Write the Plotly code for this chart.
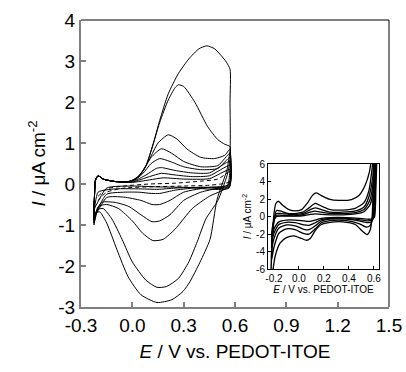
import plotly.graph_objects as go

# ---------------- main panel data (E in V, I in uA cm-2) ----------------
E_a = [-0.224, -0.222, -0.215, -0.2, -0.17, -0.1, -0.02, 0.03, 0.08, 0.12, 0.16, 0.21, 0.27, 0.33, 0.39, 0.435, 0.48, 0.52, 0.55, 0.571,
       0.571, 0.571, 0.553, 0.495, 0.454, 0.395, 0.337, 0.296, 0.232, 0.144, 0.05, -0.025, -0.09, -0.15, -0.19, -0.21, -0.224]
I_a = [-1.0, -0.4, 0.1, 0.2, 0.12, 0.06, 0.06, 0.15, 0.45, 0.95, 1.55, 2.2, 2.7, 3.05, 3.3, 3.37, 3.3, 3.13, 2.97, 2.8,
       2.0, 0.84, 0.35, -0.38, -1.35, -1.91, -2.38, -2.62, -2.82, -2.89, -2.7, -2.26, -1.6, -0.95, -0.68, -0.7, -1.0]

E_b = [-0.224, -0.222, -0.215, -0.2, -0.17, -0.1, -0.02, 0.03, 0.08, 0.12, 0.16, 0.21, 0.25, 0.27, 0.3, 0.366, 0.44, 0.5, 0.54, 0.571,
       0.568, 0.553, 0.5, 0.43, 0.38, 0.33, 0.27, 0.2, 0.144, 0.08, 0.0, -0.06, -0.12, -0.17, -0.2, -0.224]
I_b = [-0.95, -0.4, 0.1, 0.2, 0.12, 0.06, 0.06, 0.15, 0.45, 0.95, 1.5, 2.05, 2.35, 2.42, 2.38, 1.99, 1.4, 1.08, 0.97, 0.91,
       0.5, 0.2, -0.4, -0.85, -1.4, -1.9, -2.3, -2.5, -2.52, -2.35, -1.9, -1.35, -0.85, -0.6, -0.62, -0.95]

E_c = [-0.224, -0.222, -0.215, -0.2, -0.17, -0.1, -0.02, 0.04, 0.1, 0.15, 0.21, 0.26, 0.32, 0.4, 0.48, 0.54, 0.571,
       0.565, 0.55, 0.45, 0.35, 0.25, 0.18, 0.12, 0.06, 0.0, -0.08, -0.15, -0.2, -0.224]
I_c = [-0.9, -0.4, 0.1, 0.2, 0.12, 0.06, 0.06, 0.2, 0.6, 1.0, 1.2, 1.1, 0.85, 0.65, 0.62, 0.7, 0.85,
       0.1, -0.1, -0.3, -0.6, -1.1, -1.35, -1.38, -1.2, -0.9, -0.6, -0.5, -0.55, -0.9]

E_d = [-0.224, -0.222, -0.215, -0.2, -0.17, -0.1, 0.0, 0.06, 0.11, 0.17, 0.23, 0.3, 0.4, 0.5, 0.571,
       0.565, 0.5, 0.4, 0.3, 0.22, 0.16, 0.115, 0.05, -0.02, -0.1, -0.18, -0.224]
I_d = [-0.85, -0.4, 0.1, 0.2, 0.12, 0.06, 0.08, 0.3, 0.65, 0.86, 0.75, 0.55, 0.42, 0.45, 0.75,
       0.0, -0.1, -0.2, -0.4, -0.75, -0.9, -0.92, -0.75, -0.55, -0.45, -0.45, -0.85]

E_e = [-0.224, -0.222, -0.215, -0.2, -0.17, -0.1, 0.0, 0.06, 0.11, 0.16, 0.22, 0.3, 0.4, 0.5, 0.571,
       0.565, 0.45, 0.3, 0.22, 0.16, 0.115, 0.05, -0.05, -0.15, -0.224]
I_e = [-0.8, -0.4, 0.1, 0.2, 0.12, 0.06, 0.07, 0.25, 0.5, 0.62, 0.55, 0.42, 0.35, 0.38, 0.65,
       -0.02, -0.08, -0.2, -0.4, -0.5, -0.5, -0.4, -0.32, -0.33, -0.8]

E_f = [-0.224, -0.222, -0.215, -0.2, -0.17, -0.1, 0.0, 0.08, 0.14, 0.17, 0.25, 0.35, 0.45, 0.571,
       0.565, 0.4, 0.25, 0.16, 0.11, 0.04, -0.05, -0.15, -0.224]
I_f = [-0.75, -0.4, 0.1, 0.2, 0.12, 0.06, 0.06, 0.22, 0.38, 0.4, 0.33, 0.27, 0.27, 0.55,
       -0.05, -0.08, -0.15, -0.23, -0.23, -0.2, -0.2, -0.25, -0.75]

E_g = [-0.224, -0.222, -0.215, -0.2, -0.17, -0.1, 0.0, 0.1, 0.17, 0.25, 0.35, 0.45, 0.571,
       0.565, 0.4, 0.25, 0.15, 0.05, -0.1, -0.2, -0.224]
I_g = [-0.7, -0.4, 0.1, 0.2, 0.12, 0.06, 0.05, 0.18, 0.26, 0.22, 0.18, 0.2, 0.45,
       -0.08, -0.08, -0.1, -0.13, -0.12, -0.12, -0.2, -0.7]

E_h = [-0.224, -0.222, -0.215, -0.2, -0.17, -0.1, 0.0, 0.1, 0.18, 0.3, 0.45, 0.571,
       0.565, 0.3, 0.15, 0.0, -0.15, -0.224]
I_h = [-0.6, -0.4, 0.1, 0.2, 0.12, 0.06, 0.04, 0.1, 0.15, 0.12, 0.13, 0.35,
       -0.1, -0.08, -0.07, -0.05, -0.1, -0.6]

E_dash = [-0.2, -0.15, -0.05, 0.1, 0.25, 0.4, 0.5, 0.571,
          0.565, 0.45, 0.3, 0.1, -0.05, -0.15, -0.2]
I_dash = [-0.3, -0.12, -0.05, 0.0, 0.02, 0.07, 0.12, 0.3,
          0.05, -0.03, -0.05, -0.07, -0.1, -0.2, -0.4]

main_curves = [(E_a, I_a), (E_b, I_b), (E_c, I_c), (E_d, I_d), (E_e, I_e),
               (E_f, I_f), (E_g, I_g), (E_h, I_h)]

x_tickvals = [-0.3, 0.0, 0.3, 0.6, 0.9, 1.2, 1.5]
x_ticktext = ["-0.3", "0.0", "0.3", "0.6", "0.9", "1.2", "1.5"]
y_tickvals = [-3, -2, -1, 0, 1, 2, 3, 4]
y_ticktext = ["-3", "-2", "-1", "0", "1", "2", "3", "4"]

# ---------------- inset data ----------------
Ei_1 = [-0.225, -0.215, -0.2, -0.185, -0.165, -0.13, -0.08, -0.03, 0.02, 0.07, 0.11, 0.14, 0.18, 0.24, 0.32, 0.42, 0.48, 0.53, 0.565, 0.59,
        0.6, 0.595, 0.585, 0.57, 0.545, 0.51, 0.45, 0.35, 0.25, 0.18, 0.13, 0.09, 0.06, 0.02, -0.04, -0.1, -0.15, -0.19, -0.21, -0.225]
Ii_1 = [-8, -3, 0.3, 1.5, 1.75, 1.3, 0.8, 0.65, 0.8, 1.6, 2.45, 2.7, 2.4, 2.0, 1.85, 1.95, 2.4, 3.6, 5.2, 7.5,
        7.5, 4, 0, -1.5, -2.05, -1.7, -0.9, -0.6, -0.65, -0.9, -1.6, -2.5, -2.7, -2.5, -2.2, -2.4, -3.0, -4.5, -6.3, -8]

Ei_2 = [-0.22, -0.21, -0.195, -0.18, -0.15, -0.1, -0.03, 0.03, 0.08, 0.13, 0.18, 0.25, 0.35, 0.45, 0.52, 0.56, 0.585, 0.6,
        0.605, 0.6, 0.59, 0.57, 0.54, 0.48, 0.38, 0.25, 0.18, 0.13, 0.08, 0.04, -0.03, -0.1, -0.16, -0.2, -0.22]
Ii_2 = [-5, -2, 0.0, 0.7, 0.65, 0.4, 0.35, 0.5, 1.0, 1.5, 1.2, 0.8, 0.75, 0.95, 1.6, 3.0, 5.5, 7.5,
        7.5, 3, 0, -1.0, -1.2, -0.8, -0.45, -0.45, -0.7, -1.4, -2.0, -1.95, -1.5, -1.4, -1.9, -3.5, -5]

Ei_3 = [-0.22, -0.21, -0.195, -0.18, -0.14, -0.08, -0.02, 0.04, 0.09, 0.13, 0.18, 0.25, 0.35, 0.45, 0.52, 0.56, 0.59, 0.605,
        0.61, 0.605, 0.595, 0.58, 0.55, 0.48, 0.38, 0.25, 0.18, 0.13, 0.08, 0.04, -0.03, -0.1, -0.16, -0.2, -0.22]
Ii_3 = [-3.8, -1.5, -0.1, 0.35, 0.35, 0.25, 0.25, 0.4, 0.8, 1.0, 0.8, 0.5, 0.5, 0.65, 1.1, 2.3, 4.5, 7.5,
        7.5, 3, 0, -0.6, -0.7, -0.5, -0.3, -0.3, -0.5, -1.05, -1.5, -1.45, -1.05, -0.95, -1.3, -2.5, -3.8]

Ei_4 = [-0.22, -0.21, -0.195, -0.18, -0.14, -0.08, -0.02, 0.04, 0.09, 0.13, 0.18, 0.25, 0.35, 0.45, 0.52, 0.565, 0.595, 0.61,
        0.615, 0.61, 0.6, 0.585, 0.55, 0.48, 0.38, 0.25, 0.18, 0.13, 0.08, 0.04, -0.03, -0.1, -0.16, -0.2, -0.22]
Ii_4 = [-3.0, -1.2, -0.2, 0.15, 0.15, 0.1, 0.1, 0.25, 0.5, 0.62, 0.5, 0.35, 0.35, 0.45, 0.8, 1.8, 4.0, 7.5,
        7.5, 3, 0, -0.4, -0.5, -0.35, -0.2, -0.2, -0.35, -0.7, -1.0, -0.95, -0.7, -0.65, -0.9, -1.9, -3.0]

Ei_5 = [-0.22, -0.21, -0.195, -0.18, -0.14, -0.08, -0.02, 0.04, 0.09, 0.13, 0.18, 0.25, 0.35, 0.45, 0.52, 0.57, 0.6, 0.615,
        0.62, 0.615, 0.605, 0.59, 0.55, 0.48, 0.38, 0.25, 0.18, 0.13, 0.08, 0.04, -0.03, -0.1, -0.16, -0.2, -0.22]
Ii_5 = [-2.4, -1.0, -0.3, 0.0, 0.05, 0.05, 0.05, 0.12, 0.25, 0.32, 0.25, 0.2, 0.2, 0.3, 0.55, 1.4, 3.5, 7.5,
        7.5, 3, 0, -0.25, -0.3, -0.2, -0.12, -0.12, -0.2, -0.4, -0.55, -0.5, -0.4, -0.4, -0.6, -1.4, -2.4]

inset_curves = [(Ei_1, Ii_1), (Ei_2, Ii_2), (Ei_3, Ii_3), (Ei_4, Ii_4), (Ei_5, Ii_5)]

xi_tickvals = [-0.2, 0.0, 0.2, 0.4, 0.6]
xi_ticktext = ["-0.2", "0.0", "0.2", "0.4", "0.6"]
yi_tickvals = [-6, -4, -2, 0, 2, 4, 6]
yi_ticktext = ["-6", "-4", "-2", "0", "2", "4", "6"]

FONT = "Liberation Sans, Arial, sans-serif"
GRAY = "#7f7f7f"

fig = go.Figure()
for E, I in main_curves:
    fig.add_trace(go.Scatter(x=E, y=I, mode="lines", line=dict(color="black", width=1, shape="spline", smoothing=0.6),
                             showlegend=False, hoverinfo="skip"))
fig.add_trace(go.Scatter(x=E_dash, y=I_dash, mode="lines",
                         line=dict(color="black", width=1, dash="4px,3px", shape="spline", smoothing=0.6),
                         showlegend=False, hoverinfo="skip"))
for E, I in inset_curves:
    fig.add_trace(go.Scatter(x=E, y=I, mode="lines", xaxis="x2", yaxis="y2",
                             line=dict(color="black", width=1.3, shape="spline", smoothing=0.6),
                             showlegend=False, hoverinfo="skip"))

fig.update_layout(
    width=406, height=372,
    margin=dict(l=81, r=17, t=20, b=65),
    paper_bgcolor="white", plot_bgcolor="white",
    font=dict(family=FONT, color="black"),
    xaxis=dict(range=[-0.3, 1.5], tickvals=x_tickvals, ticktext=x_ticktext, automargin=False,
               showgrid=False, zeroline=False, showline=True, linecolor=GRAY, linewidth=2,
               ticks="inside", ticklen=5, tickcolor=GRAY, tickwidth=1.5,
               tickfont=dict(size=19),
               title=dict(text="<i>E</i> / V vs. PEDOT-ITOE", font=dict(size=19), standoff=10)),
    yaxis=dict(range=[-3, 4], tickvals=y_tickvals, ticktext=y_ticktext, automargin=False,
               showgrid=False, zeroline=False, showline=True, linecolor=GRAY, linewidth=2,
               ticks="inside", ticklen=5, tickcolor=GRAY, tickwidth=1.5,
               tickfont=dict(size=19),
               title=dict(text="<i>I</i> / μA cm<sup>-2</sup>", font=dict(size=19), standoff=8)),
    xaxis2=dict(domain=[0.607, 0.9675], anchor="y2", range=[-0.248, 0.64], automargin=False,
                tickvals=xi_tickvals, ticktext=xi_ticktext,
                showgrid=False, zeroline=False, showline=True, mirror=True, linecolor="black", linewidth=1,
                ticks="inside", ticklen=3, tickcolor="black", tickfont=dict(size=10),
                title=dict(text="<i>E</i> / V vs. PEDOT-ITOE", font=dict(size=10), standoff=2)),
    yaxis2=dict(domain=[0.132, 0.498], anchor="x2", range=[-6, 6], automargin=False,
                tickvals=yi_tickvals, ticktext=yi_ticktext,
                showgrid=False, zeroline=False, showline=True, mirror=True, linecolor="black", linewidth=1,
                ticks="inside", ticklen=3, tickcolor="black", tickfont=dict(size=10),
                title=dict(text="<i>I</i> / μA cm<sup>-2</sup>", font=dict(size=10), standoff=2)),
    shapes=[
        dict(type="line", xref="x domain", yref="y domain", x0=0, x1=1, y0=1, y1=1, line=dict(color="black", width=1)),
        dict(type="line", xref="x domain", yref="y domain", x0=1, x1=1, y0=0, y1=1, line=dict(color="black", width=1)),
    ],
)

fig.write_html("out.html", config={"displayModeBar": False},
               post_script="document.body.style.margin='0';document.body.style.overflow='hidden';")
